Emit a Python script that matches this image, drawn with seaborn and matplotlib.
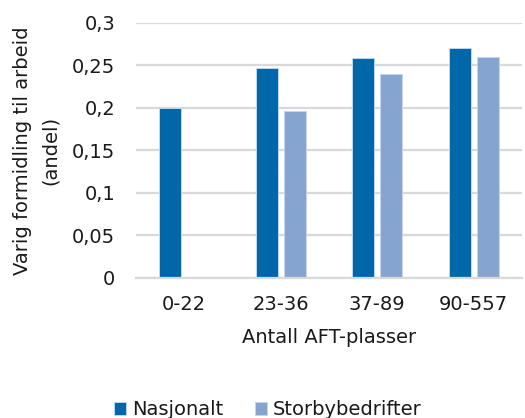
import numpy as np
import pandas as pd
import matplotlib
matplotlib.use("Agg")
import matplotlib.pyplot as plt
import seaborn as sns

# Data
categories = ["0-22", "23-36", "37-89", "90-557"]
nasjonalt = [0.200, 0.247, 0.259, 0.270]
storby = [np.nan, 0.197, 0.240, 0.260]
series_names = ["Nasjonalt", "Storbybedrifter"]
y_ticks = [0, 0.05, 0.1, 0.15, 0.2, 0.25, 0.3]
y_tick_labels = ["0", "0,05", "0,1", "0,15", "0,2", "0,25", "0,3"]

df = pd.DataFrame({
    "Kategori": categories * 2,
    "Serie": [series_names[0]] * 4 + [series_names[1]] * 4,
    "Andel": nasjonalt + storby,
})

sns.set_theme(style="white")
plt.rcParams["font.family"] = ["DejaVu Sans"]
plt.rcParams["text.color"] = "#1a1a1a"
plt.rcParams["axes.labelcolor"] = "#1a1a1a"

fig = plt.figure(figsize=(5.25, 4.18), dpi=100)
ax = fig.add_axes([0.259, 0.335, 0.735, 0.610])

palette = {series_names[0]: "#0067A8", series_names[1]: "#85A4CF"}
sns.barplot(data=df, x="Kategori", y="Andel", hue="Serie", palette=palette,
            saturation=1, width=0.58, gap=0.21, ax=ax, edgecolor="#c4d6ec",
            linewidth=0.7, legend=True, zorder=3, errorbar=None)

ax.set_ylim(0, 0.3)
ax.set_yticks(y_ticks)
ax.set_yticklabels(y_tick_labels)
ax.yaxis.grid(True, color="#d9d9d9", linewidth=1.6, zorder=0)
ax.set_axisbelow(True)
for s in ["top", "right", "left"]:
    ax.spines[s].set_visible(False)
ax.spines["bottom"].set_color("#d9d9d9")
ax.spines["bottom"].set_linewidth(1.6)
ax.spines["bottom"].set_zorder(4)

ax.tick_params(axis="both", length=0, labelsize=14, colors="#1a1a1a")
ax.tick_params(axis="y", pad=15)
ax.tick_params(axis="x", pad=12)

ax.set_xlabel("Antall AFT-plasser", fontsize=14, labelpad=10)
ax.set_ylabel("Varig formidling til arbeid\n(andel)", fontsize=14, linespacing=1.6)
ax.yaxis.set_label_coords(-0.198, 0.5)

handles, labels = ax.get_legend_handles_labels()
ax.get_legend().remove()
fig.legend(handles, labels, loc="lower center", bbox_to_anchor=(0.51, -0.045),
           ncol=2, frameon=False, fontsize=14, handlelength=0.65,
           handleheight=0.65, handletextpad=0.3, columnspacing=1.6)

fig.savefig("out.png", dpi=100)
